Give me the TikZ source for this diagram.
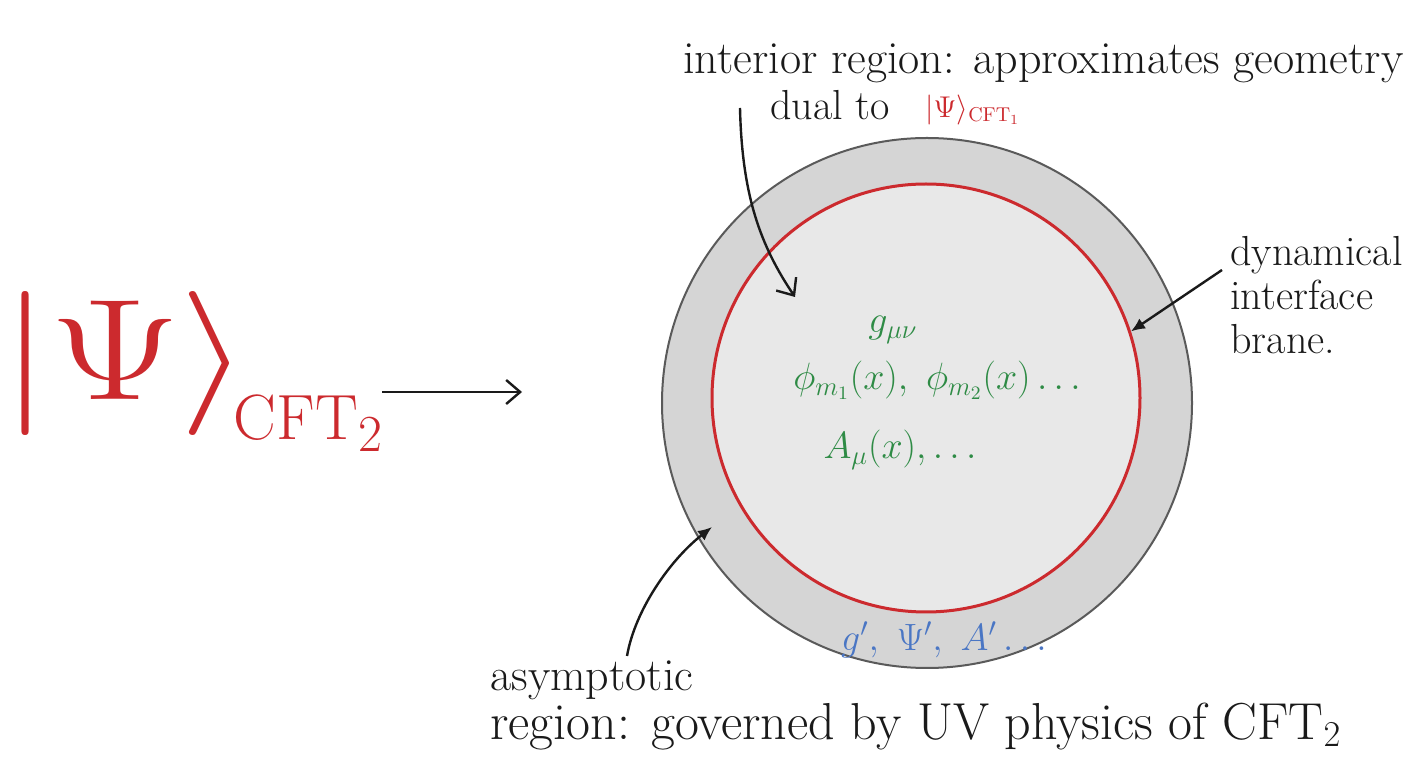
\documentclass[tikz,border=0pt]{standalone}
\usepackage{fix-cm}
\usepackage{fontspec}
\usetikzlibrary{arrows.meta}
\definecolor{ink}{HTML}{1A1A1A}
\definecolor{penred}{HTML}{CC2A2E}
\definecolor{pengreen}{HTML}{2E8B45}
\definecolor{penblue}{HTML}{4A76C4}
\definecolor{bulkgray}{HTML}{D5D5D5}
\definecolor{coregray}{HTML}{E8E8E8}
\definecolor{rimgray}{HTML}{5A5A5A}

\begin{document}
\begin{tikzpicture}[
  x=0.5pt, y=-0.5pt,
  note/.style    = {text=ink, font=\fontsize{21}{22}\selectfont, inner sep=0pt, align=left},
  field/.style   = {text=pengreen, font=\fontsize{19}{24}\selectfont, inner sep=0pt},
  bdryf/.style   = {text=penblue, font=\fontsize{19}{24}\selectfont, inner sep=0pt},
  bigket/.style  = {text=penred, font=\fontsize{72}{72}\selectfont, inner sep=0pt},
  smallket/.style= {text=penred, font=\fontsize{15}{15}\selectfont, inner sep=0pt},
  arr/.style     = {-{Straight Barb[length=7pt,width=12pt]}, draw=ink, line width=1.2pt},
  arrf/.style    = {-{Latex[length=7pt,width=6pt]}, draw=ink, line width=1.2pt},
]
\useasboundingbox[fill=white] (0,0) rectangle (1414,758);

\node[circle, draw=rimgray, line width=1pt, fill=bulkgray,
      minimum size=265pt, inner sep=0pt] (bulk) at (927,403) {};
\node[circle, draw=penred, line width=1.5pt, fill=coregray,
      minimum size=214pt, inner sep=0pt] (brane) at (926,398) {};

\node[bigket, anchor=base west] (state2) at (0,400)
  {\scalebox{1.25}[1]{$|\Psi\rangle$}\hspace{-8pt}\raisebox{-20pt}{\fontsize{32}{32}\selectfont CFT\raisebox{-6pt}{\fontsize{26}{26}\selectfont 2}}};
\coordinate (aim) at (522,392);
\draw[arr] (state2.east |- aim) -- (aim);

\node[note, anchor=base west, font=\fontsize{23}{24}\selectfont] (interior) at (683,74)
  {interior region: approximates geometry};
\node[note, anchor=base west] (dual) at (770,120) {dual to};
\node[smallket, anchor=base west] (state1) at (925,118)
  {$|\Psi\rangle$\raisebox{-2pt}{\fontsize{10}{10}\selectfont CFT$_1$}};
\coordinate (core) at (795,297);
\draw[arr] ([xshift=28.5pt,yshift=-17pt]interior.base west)
  .. controls (742,195) and (760,245) .. (core);

\node[field] (metric) at (893,330) {$g_{\mu\nu}$};
\node[field] (fields) at (937,380) {$\phi_{m_1}(x),\ \phi_{m_2}(x)\ldots$};
\node[field] (gauge) at (900,450) {$A_\mu(x),\ldots$};

\node[bdryf] (bdry) at (944,640) {$g',\ \Psi',\ A'\ldots$};

\node[note, anchor=north west] (branelabel) at (1230,236) {dynamical\\ interface\\ brane.};
\draw[arrf] ([xshift=-4pt,yshift=-17pt]branelabel.north west) -- (brane.18);

\node[note, anchor=north west, font=\fontsize{23}{24.5}\selectfont] (asym) at (490,660)
  {asymptotic\\ {\fontsize{26}{26}\selectfont region: governed by UV physics of CFT$_2$}};
\coordinate (rim) at (712,527);
\draw[arrf] ([xshift=68.5pt,yshift=2pt]asym.north west)
  .. controls (635,610) and (670,560) .. (rim);

\end{tikzpicture}
\end{document}
